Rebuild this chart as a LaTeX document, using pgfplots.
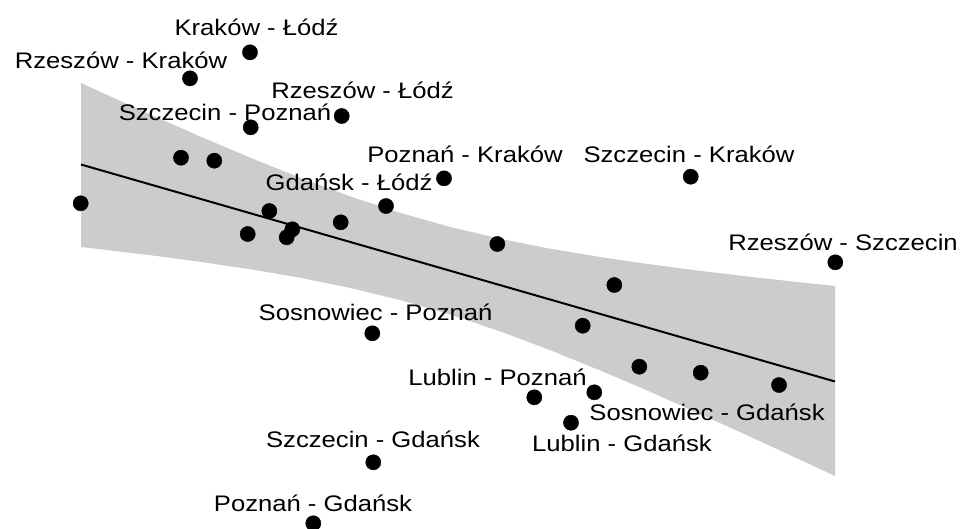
\documentclass[border=0pt]{standalone}
\usepackage{pgfplots}
\pgfplotsset{compat=1.18}
\usepackage{fontspec}
\setmainfont[FakeStretch=1.14]{Liberation Sans}
\definecolor{bandgray}{RGB}{204,204,204}
\begin{document}
\begin{tikzpicture}[lbl/.style={font=\fontsize{22.5}{26}\selectfont, inner sep=0pt, anchor=base}]
\begin{axis}[
  width=963pt, height=528pt, scale only axis,
  xmin=0, xmax=963, ymin=0, ymax=528, y dir=reverse,
  axis lines=none, clip=true,
]
% confidence band
\addplot[fill=bandgray, draw=none] coordinates {
 (81,83.0) (120,100.8) (160,118.8) (200,136.4) (250,157.6) (300,177.7)
 (350,196.3) (400,212.8) (450,226.9) (500,238.7) (550,248.7) (600,257.0)
 (650,264.3) (700,270.8) (750,276.8) (800,282.3) (835,286.0)
 (835,476.0) (800,459.7) (750,436.6) (700,414.0) (650,391.7) (600,370.4)
 (550,350.1) (500,331.3) (450,314.5) (400,300.0) (350,287.9) (300,277.7)
 (250,269.2) (200,261.8) (160,256.4) (120,251.6) (81,247.0)
} -- cycle;
% regression line
\addplot[black, line width=2pt] coordinates {(81,164.5) (835,381.5)};
% points
\addplot[only marks, mark=*, mark size=7.6pt, black] coordinates {
 (80.7,203.3) (181,157.7) (214.3,160.7) (190,78.3) (250,52.3) (250.7,127.3)
 (341.7,116) (269.3,211) (247.7,234) (292.3,229.3) (286.7,237.3) (340.7,222.3)
 (386,206) (444,178.3) (497.3,244) (690.7,176.7) (835.3,262.3) (614.3,285)
 (582.7,325.7) (372.3,333.3) (639.3,366.7) (700.7,372.7) (779,385)
 (594.3,392.3) (534.3,397.3) (571,422.7) (373.3,462.3) (313.3,523.3)
};
% labels
\node[lbl] at (axis cs:256.5,35) {Kraków - Łódź};
\node[lbl] at (axis cs:121,68.3) {Rzeszów - Kraków};
\node[lbl] at (axis cs:362.5,98.3) {Rzeszów - Łódź};
\node[lbl] at (axis cs:225,120) {Szczecin - Poznań};
\node[lbl] at (axis cs:465,162.7) {Poznań - Kraków};
\node[lbl] at (axis cs:689,162.7) {Szczecin - Kraków};
\node[lbl] at (axis cs:349,190) {Gdańsk - Łódź};
\node[lbl] at (axis cs:843,250.7) {Rzeszów - Szczecin};
\node[lbl] at (axis cs:375.6,320.7) {Sosnowiec - Poznań};
\node[lbl] at (axis cs:497.5,385) {Lublin - Poznań};
\node[lbl] at (axis cs:707,420) {Sosnowiec - Gdańsk};
\node[lbl] at (axis cs:622,451.7) {Lublin - Gdańsk};
\node[lbl] at (axis cs:373,447.7) {Szczecin - Gdańsk};
\node[lbl] at (axis cs:313,511) {Poznań - Gdańsk};
\end{axis}
\pgfresetboundingbox
\useasboundingbox (current axis.south west) rectangle (current axis.north east);
\end{tikzpicture}
\end{document}
